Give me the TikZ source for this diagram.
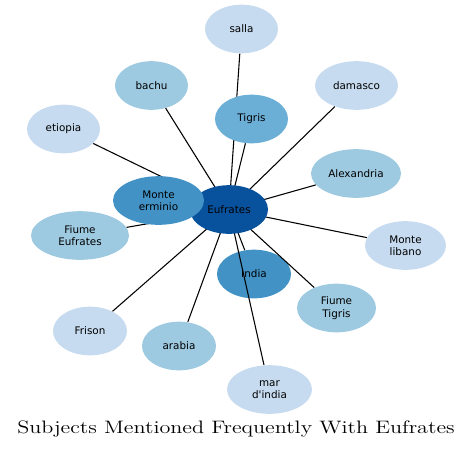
\documentclass[tikz,border=0pt]{standalone}
\usepackage{fontspec}
\newfontfamily\nodefont{DejaVu Sans}
\usetikzlibrary{shapes.geometric}
\pgfdeclarelayer{under}
\pgfdeclarelayer{edges}
\pgfsetlayers{under,edges,main}
\definecolor{bA}{HTML}{C6DBEF}
\definecolor{bB}{HTML}{9ECAE1}
\definecolor{bC}{HTML}{6BAED6}
\definecolor{bD}{HTML}{4292C6}
\definecolor{bE}{HTML}{08519C}
\begin{document}
\begin{tikzpicture}[x=0.75pt,y=-0.75pt,
  ell/.style={ellipse, draw=none, inner sep=0pt, minimum width={#1*1.5pt}, minimum height=36.5pt,
    align=center, font=\nodefont\fontsize{7.8}{9.2}\selectfont, text=black},
  edge/.style={draw=black, line width=0.8pt}]
\useasboundingbox (0,0) rectangle (473,450);
\begin{pgfonlayer}{under}
\node[ell=37, fill=bD] (india) at (254,274) {India};
\end{pgfonlayer}
\node[ell=36.5, fill=bA] (salla) at (241.5,29) {salla};
\node[ell=36.5, fill=bB] (bachu) at (151.5,85.5) {bachu};
\node[ell=41.5, fill=bA] (damasco) at (356.5,85.5) {damasco};
\node[ell=36.5, fill=bC] (tigris) at (251.5,119) {Tigris};
\node[ell=36.5, fill=bA] (etiopia) at (63.5,129) {etiopia};
\node[ell=45, fill=bB] (alex) at (356,173.5) {Alexandria};
\node[ell=39, fill=bE] (euf) at (229,209.5) {Eufrates};
\node[ell=45.5, fill=bD] (monte) at (158.5,200.5) {Monte\\erminio};
\node[ell=49, fill=bB] (fiumeE) at (80,235.5) {Fiume\\Eufrates};
\node[ell=40.5, fill=bA] (libano) at (405.5,245.5) {Monte\\libano};
\node[ell=39.5, fill=bB] (fiumeT) at (336.5,308) {Fiume\\Tigris};
\node[ell=37, fill=bA] (frison) at (90,331) {Frison};
\node[ell=37, fill=bB] (arabia) at (179,346) {arabia};
\node[ell=42.5, fill=bA] (mar) at (269.5,389.5) {mar\\d'india};
\node[font=\fontsize{13.5}{16}\selectfont] (title) at (236,429) {\scalebox{1.23}[1]{Subjects Mentioned Frequently With Eufrates}};
\begin{pgfonlayer}{edges}
\foreach \n in {salla,bachu,damasco,tigris,etiopia,alex,monte,fiumeE,libano,india,fiumeT,frison,arabia,mar}
  \draw[edge] (euf.center) -- (\n);
\end{pgfonlayer}
\end{tikzpicture}
\end{document}
